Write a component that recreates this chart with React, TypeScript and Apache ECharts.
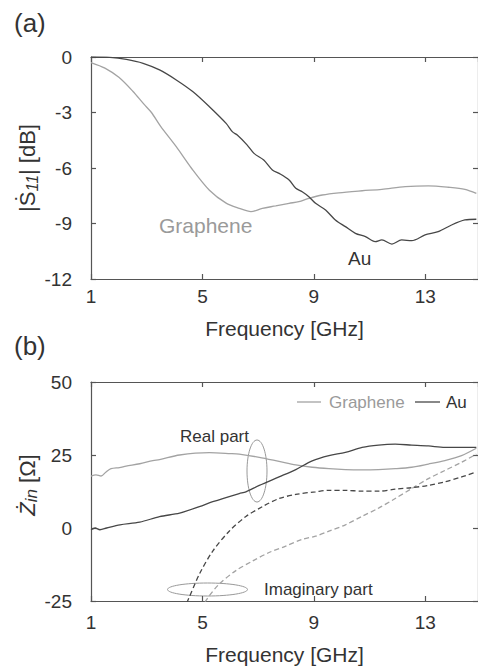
import React, { useEffect, useRef } from "react";
import * as echarts from "echarts";

// ---------- data ----------
const freqMin = 1;
const freqMax = 14.89;
const freqInterval = 4;

const s11YMin = -12;
const s11YMax = 0;
const s11YInterval = 3;

const zYMin = -25;
const zYMax = 50;
const zYInterval = 25;

// (a) |S11| [dB]
const s11GrapheneFreq = [1.0, 1.5, 2.0, 2.5, 2.9, 3.17, 3.5, 4.06, 4.6, 5.25, 5.85, 6.32, 6.74, 7.15, 7.63, 8.11, 8.46, 8.82, 9.3, 9.89, 10.73, 11.44, 12.28, 13.11, 13.82, 14.42, 14.83];
const s11GrapheneDb = [-0.3, -0.6, -1.1, -1.85, -2.55, -3.0, -3.75, -4.85, -6.0, -7.2, -7.9, -8.18, -8.36, -8.18, -8.05, -7.91, -7.82, -7.64, -7.46, -7.34, -7.23, -7.15, -7.01, -6.97, -7.04, -7.15, -7.37];

const s11AuFreq = [1.0, 1.68, 2.27, 2.87, 3.46, 4.06, 4.65, 5.25, 5.85, 6.08, 6.25, 6.6, 6.85, 7.2, 7.51, 7.75, 8.11, 8.35, 8.58, 8.82, 9.06, 9.42, 9.77, 10.13, 10.49, 10.85, 11.2, 11.44, 11.8, 12.15, 12.51, 12.99, 13.46, 13.94, 14.42, 14.83];
const s11AuDb = [0.0, -0.02, -0.13, -0.34, -0.7, -1.24, -1.87, -2.69, -3.59, -4.05, -4.22, -4.75, -5.21, -5.57, -6.11, -6.29, -6.65, -7.1, -7.28, -7.55, -7.91, -8.27, -8.81, -9.17, -9.53, -9.71, -9.98, -9.89, -10.11, -9.89, -9.93, -9.62, -9.44, -9.08, -8.81, -8.77];

// (b) Zin [Ω]
const reGrapheneFreq = [1.0, 1.18, 1.36, 1.54, 1.72, 2.02, 2.26, 2.75, 3.22, 3.46, 4.18, 5.25, 6.0, 6.32, 7.04, 7.75, 8.35, 8.94, 9.54, 10.13, 10.73, 11.32, 11.92, 12.51, 13.11, 13.7, 14.3, 14.83];
const reGrapheneOhm = [17.8, 18.2, 17.8, 19.2, 20.3, 20.7, 21.2, 22.0, 23.1, 23.4, 25.0, 25.8, 25.5, 25.3, 24.2, 22.8, 21.6, 20.8, 20.3, 20.0, 19.9, 20.0, 20.3, 20.8, 21.9, 23.1, 24.8, 27.3];

const reAuFreq = [1.0, 1.15, 1.32, 1.56, 2.04, 2.75, 3.46, 4.18, 4.89, 5.37, 6.32, 6.56, 7.04, 7.75, 8.35, 8.94, 9.54, 10.13, 10.73, 11.32, 11.92, 12.51, 13.11, 13.7, 14.3, 14.83];
const reAuOhm = [-0.6, 0.0, -0.6, 0.0, 1.1, 2.0, 3.9, 5.1, 7.3, 9.0, 11.8, 12.4, 14.6, 17.5, 20.0, 23.0, 24.8, 25.9, 27.6, 28.4, 28.7, 28.4, 28.1, 27.6, 27.6, 27.6];

const imAuFreq = [4.3, 4.475, 4.89, 5.37, 5.96, 6.56, 7.15, 7.75, 8.35, 9.06, 9.54, 10.13, 10.73, 11.32, 11.92, 12.51, 13.11, 13.7, 14.3, 14.83];
const imAuOhm = [-28, -24.8, -15.8, -7.9, -1.1, 3.95, 7.3, 10.1, 11.5, 12.4, 12.9, 12.9, 12.6, 12.6, 13.3, 13.8, 14.6, 15.8, 17.5, 19.2];

const imGrapheneFreq = [5.0, 5.13, 5.61, 6.2, 6.8, 7.39, 7.99, 8.58, 9.06, 9.54, 10.13, 10.73, 11.32, 11.92, 12.51, 13.11, 13.7, 14.3, 14.83];
const imGrapheneOhm = [-28, -24.8, -19.1, -14.6, -11.3, -8.4, -6.2, -3.9, -2.8, -1.1, 1.1, 4.0, 6.8, 10.1, 13.5, 16.9, 19.7, 22.5, 25.3];

const seriesNames = ["Graphene", "Au"];
const grapheneColor = "#a3a3a3";
const auColor = "#474747";

const zip = (xs: number[], ys: number[]) => xs.map((x, i) => [x, ys[i]]);

const FONT = "Liberation Sans, Arial, Helvetica, sans-serif";
const axisColor = "#555";
const textColor = "#333";

export default function App() {
  const ref = useRef<HTMLDivElement>(null);

  useEffect(() => {
    document.body.style.margin = "0";
    if (!ref.current) return;
    const chart = echarts.init(ref.current, undefined, { renderer: "svg" });

    const lineStyle = { color: axisColor, width: 1.2 };
    const makeX = (grid: number, bottom: boolean, labelMargin: number) => ({
      gridIndex: grid,
      type: "value",
      min: freqMin,
      max: freqMax,
      interval: freqInterval,
      position: bottom ? "bottom" : "top",
      axisLine: { show: true, onZero: false, lineStyle },
      axisTick: { show: true, inside: true, length: 5, lineStyle },
      splitLine: { show: false },
      axisLabel: bottom
        ? { show: true, fontSize: 19, color: textColor, fontFamily: FONT, margin: labelMargin, showMaxLabel: false }
        : { show: false },
      name: bottom ? "Frequency [GHz]" : "",
      nameLocation: "middle",
      nameGap: bottom ? labelMargin + 31 : 0,
      nameTextStyle: { fontSize: 21, color: textColor, fontFamily: FONT },
    });
    const makeY = (grid: number, left: boolean, min: number, max: number, interval: number) => ({
      gridIndex: grid,
      type: "value",
      min,
      max,
      interval,
      position: left ? "left" : "right",
      axisLine: { show: true, onZero: false, lineStyle },
      axisTick: { show: true, inside: true, length: 5, lineStyle },
      splitLine: { show: false },
      axisLabel: left
        ? { show: true, fontSize: 19, color: textColor, fontFamily: FONT, margin: 19 }
        : { show: false },
    });

    const line = (name: string, data: number[][], color: string, grid: number, dashed: boolean) => ({
      name,
      type: "line",
      xAxisIndex: grid * 2,
      yAxisIndex: grid * 2,
      data,
      showSymbol: false,
      symbol: "none",
      smooth: 0.3,
      clip: true,
      lineStyle: { color, width: 1.3, type: dashed ? [5, 3] : "solid" },
    });

    const gText = (text: string, x: number, y: number, size: number, fill: string, align = "left") => ({
      type: "text",
      x,
      y,
      style: { text, fontSize: size, fill, fontFamily: FONT, align, verticalAlign: "middle" },
    });

    chart.setOption({
      animation: false,
      backgroundColor: "#fff",
      grid: [
        { left: 91, top: 57, width: 389, height: 222 },
        { left: 91, top: 382, width: 389, height: 222 },
      ],
      xAxis: [makeX(0, true, 8), makeX(0, false, 0), makeX(1, true, 12), makeX(1, false, 0)],
      yAxis: [
        makeY(0, true, s11YMin, s11YMax, s11YInterval),
        makeY(0, false, s11YMin, s11YMax, s11YInterval),
        makeY(1, true, zYMin, zYMax, zYInterval),
        makeY(1, false, zYMin, zYMax, zYInterval),
      ],
      series: [
        line(seriesNames[0], zip(s11GrapheneFreq, s11GrapheneDb), grapheneColor, 0, false),
        line(seriesNames[1], zip(s11AuFreq, s11AuDb), auColor, 0, false),
        line(seriesNames[0] + " Re", zip(reGrapheneFreq, reGrapheneOhm), grapheneColor, 1, false),
        line(seriesNames[1] + " Re", zip(reAuFreq, reAuOhm), auColor, 1, false),
        line(seriesNames[0] + " Im", zip(imGrapheneFreq, imGrapheneOhm), grapheneColor, 1, true),
        line(seriesNames[1] + " Im", zip(imAuFreq, imAuOhm), auColor, 1, true),
      ],
      graphic: [
        gText("(a)", 14, 23, 26, textColor),
        gText("(b)", 14, 346, 26, textColor),
        {
          type: "text",
          x: 27,
          y: 168,
          rotation: Math.PI / 2,
          style: {
            text: "|{s|Ṡ}{sub|11}| [dB]",
            fontSize: 22,
            fill: textColor,
            fontFamily: FONT,
            align: "center",
            verticalAlign: "middle",
            lineHeight: 26,
            rich: {
              s: { fontSize: 22, fill: textColor, fontFamily: FONT, lineHeight: 26 },
              sub: { fontSize: 16, fontStyle: "italic", fill: textColor, fontFamily: FONT, lineHeight: 26, verticalAlign: "bottom", padding: [6, 0, 0, 0] },
            },
          },
        },
        {
          type: "text",
          x: 27,
          y: 485,
          rotation: Math.PI / 2,
          style: {
            text: "{z|Ż}{sub|in} [Ω]",
            fontSize: 22,
            fill: textColor,
            fontFamily: FONT,
            align: "center",
            verticalAlign: "middle",
            lineHeight: 26,
            rich: {
              z: { fontSize: 22, fontStyle: "italic", fill: textColor, fontFamily: FONT, lineHeight: 26 },
              sub: { fontSize: 17, fontStyle: "italic", fill: textColor, fontFamily: FONT, lineHeight: 26, verticalAlign: "bottom", padding: [6, 0, 0, 0] },
            },
          },
        },
        gText("Graphene", 159, 225, 21, "#9a9a9a"),
        gText("Au", 348, 258, 19, textColor),
        // legend (b)
        { type: "line", shape: { x1: 297, y1: 402, x2: 321, y2: 402 }, style: { stroke: grapheneColor, lineWidth: 1.3 } },
        gText(seriesNames[0], 329, 402, 17, "#9a9a9a"),
        { type: "line", shape: { x1: 415, y1: 402, x2: 440, y2: 402 }, style: { stroke: auColor, lineWidth: 1.3 } },
        gText(seriesNames[1], 446, 402, 17, textColor),
        // annotations
        gText("Real part", 180, 436, 17, textColor),
        { type: "ellipse", shape: { cx: 257, cy: 471, rx: 10, ry: 31 }, style: { fill: "none", stroke: "#999", lineWidth: 1 } },
        gText("Imaginary part", 264, 589, 17, textColor),
        { type: "ellipse", shape: { cx: 207.5, cy: 589.5, rx: 40, ry: 6.5 }, style: { fill: "none", stroke: "#999", lineWidth: 1 } },
      ],
    });

    return () => chart.dispose();
  }, []);

  return <div ref={ref} style={{ width: 478, height: 666 }} />;
}
